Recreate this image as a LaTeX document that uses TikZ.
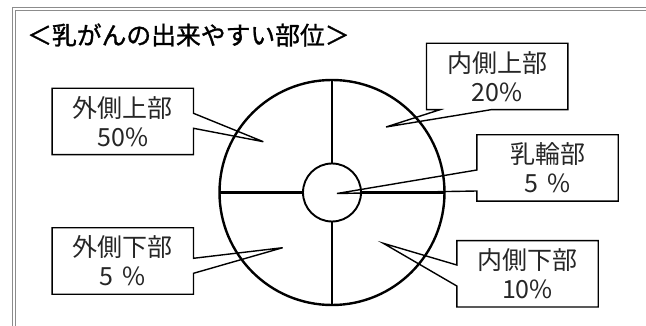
\documentclass[tikz,border=0pt]{standalone}
\usepackage{fontspec}
\setmainfont{Noto Sans CJK JP}
\newfontfamily\titlefont[FakeBold=1.2]{Noto Sans CJK JP}
\usetikzlibrary{calc}
\def\calloutE(#1)(#2:#3)(#4){\draw[callout] (#1.north west) -- (#1.north east) -- (#1.east |- 0,#2) -- (#4) -- (#1.east |- 0,#3) -- (#1.south east) -- (#1.south west) -- cycle;}
\def\calloutW(#1)(#2:#3)(#4){\draw[callout] (#1.north west) -- (#1.north east) -- (#1.south east) -- (#1.south west) -- (#1.west |- 0,#3) -- (#4) -- (#1.west |- 0,#2) -- cycle;}
\def\calloutS(#1)(#2:#3)(#4){\draw[callout] (#1.north west) -- (#1.north east) -- (#1.south east) -- (#1.south -| #3,0) -- (#4) -- (#1.south -| #2,0) -- (#1.south west) -- cycle;}

\begin{document}
\begin{tikzpicture}[x=1pt, y=-1pt,
		frame/.style={line width=0.9pt, color=black!45},
		divider/.style={line width=2.4pt},
		callout/.style={line width=1.4pt},
		part/.style={minimum width=141pt, minimum height=66pt, inner sep=0pt, align=center, text=black!85, font=\fontsize{25}{29}\selectfont}]
			%%%%% START %%%%%
			
			\useasboundingbox (0,0) rectangle (646,326);
			
			\draw[frame] (646, 7.5) -- (12, 7.5) -- (12, 326);
			\draw[frame] (646, 10.5) -- (15, 10.5) -- (15, 326);
			
			\node[anchor=west, inner sep=0pt, font=\titlefont\fontsize{24.8}{30}\selectfont] (title) at (27, 35) {＜乳がんの出来やすい部位＞};
			
			\node[circle, draw, divider, outer sep=0pt, minimum size=225pt] (breast) at (332, 192.5) {};
			\node[circle, draw, line width=1.9pt, outer sep=0pt, minimum size=58pt] (areola) at (332, 192.5) {};
			
			\draw[divider] (breast.north) -- (areola.north);
			\draw[divider] (breast.west) -- (areola.west);
			\draw[divider] (breast.south) -- (areola.south);
			\draw[divider] (breast.east) -- (areola.east);
			
			\node[part] (upout) at (122.8, 121.5) {外側上部\\50\%};
			\node[part] (upin) at (497.2, 76.5) {内側上部\\20\%};
			\node[part] (nip) at (547.5, 168) {乳輪部\\5\hspace{0.35em}\%};
			\node[part] (lowout) at (122.8, 261) {外側下部\\5\hspace{0.35em}\%};
			\node[part] (lowin) at (527.5, 273.8) {内側下部\\10\%};
			
			\coordinate (upouttip) at (263.3, 141.7);
			\coordinate (upintip) at (386, 127);
			\coordinate (niptip) at (337, 193.5);
			\coordinate (lowouttip) at (282.7, 247.7);
			\coordinate (lowintip) at (383.3, 243.3);
			
			\calloutE(upout)(113.3:128.3)(upouttip)
			\calloutS(upin)(440:491)(upintip)
			\calloutW(nip)(170:191)(niptip)
			\calloutE(lowout)(258.3:273.3)(lowouttip)
			\calloutW(lowin)(265:286)(lowintip)
			
			%%%%% END %%%%%
		\end{tikzpicture}
\end{document}
